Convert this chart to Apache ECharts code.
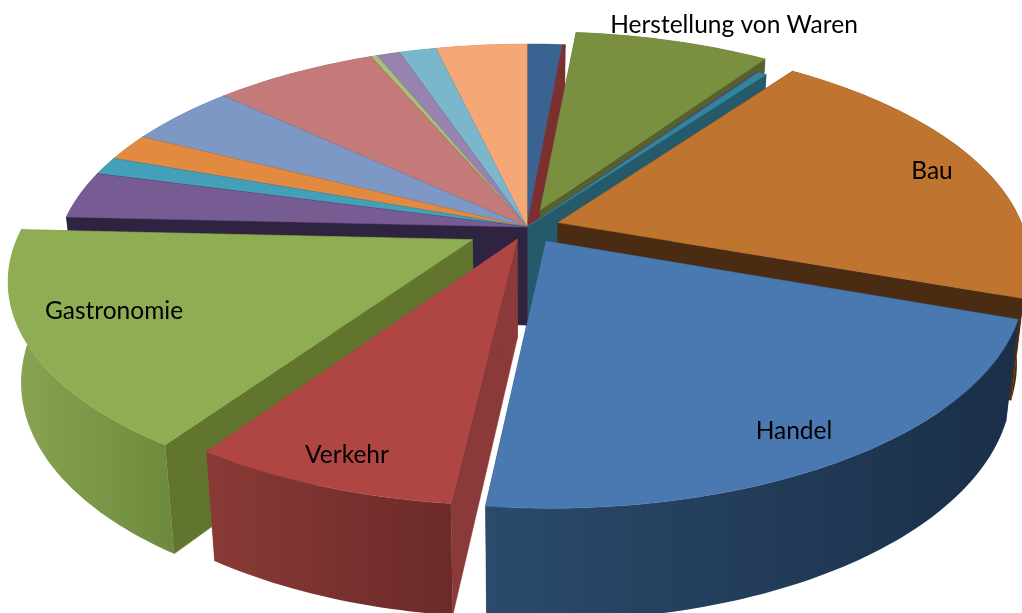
<!DOCTYPE html>
<html lang="de">
<head>
    <meta charset="UTF-8">
    <title>Branchen</title>
    <script src="https://cdn.jsdelivr.net/npm/echarts@6/dist/echarts.min.js"></script>
    <style>
        html, body { margin: 0; padding: 0; background: #fff; }
        #chart { width: 1022px; height: 613px; }
    </style>
</head>
<body>
    <div id="chart"></div>
    <script>
        // Werte in Prozent, im Uhrzeigersinn ab 12 Uhr
        var sliceNames = ['', '', 'Herstellung von Waren', '', '', 'Bau', 'Handel', 'Verkehr', 'Gastronomie',
            '', '', '', '', '', '', '', '', ''];
        var sliceValues = [1.44, 0.1, 8.0, 0.1, 0.35, 20.45, 21.36, 7.69, 16.26,
            3.42, 1.31, 1.97, 4.5, 6.67, 0.25, 0.94, 1.5, 3.69];
        var sliceExplode = [0, 0, 0.085, 0, 0, 0.07, 0.076, 0.06, 0.13,
            0, 0, 0, 0, 0, 0, 0, 0, 0];
        var sliceReach = [1, 1, 1, 1, 1, 1, 1, 1, 0.97,
            1, 1, 1, 1, 1, 1, 1, 1, 1];

        var topColors = ['#3a6391', '#7f3232', '#7b8f41', '#5f4a7b', '#31859c', '#bf7430', '#4a78b0', '#b04644', '#8fad52',
            '#775b93', '#43a0b8', '#e28a40', '#7d98c4', '#c47a78', '#a8c07a', '#9883ae', '#7ab7cc', '#f5a876'];
        var sideColors = ['#2a4565', '#7b2f2f', '#56622e', '#3d2f50', '#255a6a', '#4a2c13', '#1f3650', '#8a3a38', '#62752f',
            '#2e2340', '#255a6a', '#7a4a20', '#4a5a78', '#7a4a48', '#67754a', '#5c4f6a', '#4a6f7c', '#96663f'];
        var rimFrom = ['#2a4565', '#7b2f2f', '#56622e', '#3d2f50', '#255a6a', '#4a2c13', '#2b4a6c', '#8a3a36', '#8aa553',
            '#2e2340', '#2a6070', '#8a5226', '#4a5a78', '#7a4a48', '#67754a', '#5c4f6a', '#4a6f7c', '#96663f'];
        var rimTo = ['#2a4565', '#7b2f2f', '#56622e', '#3d2f50', '#255a6a', '#4a2c13', '#1a2f47', '#6b2a28', '#6d8a3c',
            '#2e2340', '#2a6070', '#8a5226', '#4a5a78', '#7a4a48', '#67754a', '#5c4f6a', '#4a6f7c', '#96663f'];

        var labelSpots = {
            'Herstellung von Waren': [734, 25],
            'Bau': [932, 171],
            'Handel': [794, 431],
            'Verkehr': [347, 455],
            'Gastronomie': [114, 311]
        };

        var cx = 527, cy = 227;
        var radiusX = 465, radiusY = 215, perspective = 0.175;
        var wallHeight = 98, wallShrink = 0.975;

        // Winkel aufsummieren
        var total = sliceValues.reduce(function (a, b) { return a + b; }, 0);
        var slices = [];
        var acc = 0;
        sliceValues.forEach(function (v, i) {
            var a0 = acc / total * Math.PI * 2;
            acc += v;
            var a1 = acc / total * Math.PI * 2;
            var mid = (a0 + a1) / 2;
            slices.push({
                i: i, a0: a0, a1: a1, mid: mid,
                ox: Math.sin(mid) * sliceExplode[i],
                oz: Math.cos(mid) * sliceExplode[i]
            });
        });

        // von hinten nach vorne zeichnen
        var drawOrder = slices.slice().sort(function (a, b) {
            return Math.cos(b.mid) - Math.cos(a.mid);
        }).map(function (s) { return s.i; });

        function project(gx, gz, low) {
            var w = 1 + perspective * gz;
            var x = radiusX * gx / w;
            var y = -radiusY * gz / w;
            if (low) {
                x = x * wallShrink;
                y = y + wallHeight / Math.pow(w, 0.65);
            }
            return [cx + x, cy + y];
        }

        function rimPoints(s, low) {
            var pts = [];
            var r = sliceReach[s.i];
            var n = Math.max(2, Math.ceil((s.a1 - s.a0) / 0.02));
            for (var k = 0; k <= n; k++) {
                var a = s.a0 + (s.a1 - s.a0) * k / n;
                pts.push(project(s.ox + r * Math.sin(a), s.oz + r * Math.cos(a), low));
            }
            return pts;
        }

        function face(points, fill) {
            return {
                type: 'polygon',
                shape: { points: points },
                style: { fill: fill, stroke: fill, lineWidth: 0.5 }
            };
        }

        function renderSlice(params, api) {
            var s = slices[api.value(0)];
            var i = s.i;
            var apexTop = project(s.ox, s.oz, false);
            var apexLow = project(s.ox, s.oz, true);
            var top = rimPoints(s, false);
            var low = rimPoints(s, true);
            var children = [];

            // Schnittflaechen
            children.push(face([apexTop, top[0], low[0], apexLow], sideColors[i]));
            children.push(face([apexTop, top[top.length - 1], low[low.length - 1], apexLow], sideColors[i]));

            // Aussenwand, links heller als rechts
            children.push({
                type: 'polygon',
                shape: { points: top.concat(low.slice().reverse()) },
                style: {
                    fill: new echarts.graphic.LinearGradient(0, 0, 1, 0, [
                        { offset: 0, color: rimFrom[i] },
                        { offset: 1, color: rimTo[i] }
                    ])
                }
            });

            // Deckel
            children.push(face([apexTop].concat(top), topColors[i]));

            return { type: 'group', children: children };
        }

        function renderLabel(params, api) {
            var name = sliceNames[api.value(0)];
            var spot = labelSpots[name];
            return {
                type: 'text',
                x: spot[0],
                y: spot[1],
                style: {
                    text: name,
                    fill: '#000',
                    font: '24.5px Lato',
                    align: 'center',
                    verticalAlign: 'middle'
                }
            };
        }

        var labelled = [];
        sliceNames.forEach(function (n, i) { if (n) labelled.push([i]); });

        var chart = echarts.init(document.getElementById('chart'));
        chart.setOption({
            animation: false,
            series: [
                {
                    type: 'custom',
                    coordinateSystem: 'none',
                    renderItem: renderSlice,
                    silent: true,
                    data: drawOrder.map(function (i) { return [i]; })
                },
                {
                    type: 'custom',
                    coordinateSystem: 'none',
                    renderItem: renderLabel,
                    silent: true,
                    z: 5,
                    data: labelled
                }
            ]
        });
    </script>
</body>
</html>
